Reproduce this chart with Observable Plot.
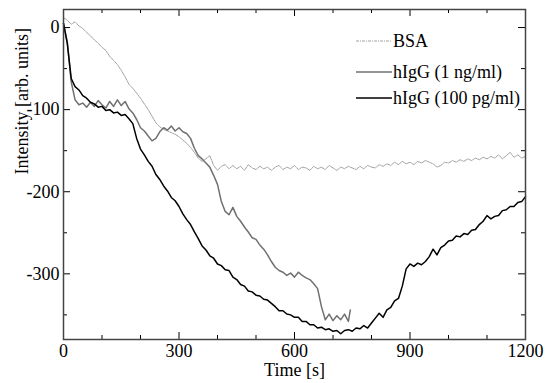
<!DOCTYPE html>
<html><head><meta charset="utf-8">
<script src="https://cdn.jsdelivr.net/npm/d3@7"></script>
<script src="https://cdn.jsdelivr.net/npm/@observablehq/plot@0.6"></script>
<style>body{margin:0;background:#fff} #wrap{position:relative;width:551px;height:383px}</style>
</head><body><div id="wrap"></div>
<script>
// ---- data ----
const seriesNames = ["BSA", "hIgG (1 ng/ml)", "hIgG (100 pg/ml)"];

const tBSA = [0,10,20,30,40,50,60,70,80,90,100,110,120,130,140,150,160,170,180,190,200,210,220,230,240,250,260,270,280,290,300,310,320,330,340,350,360,370,380,390,400,410,420,430,440,450,460,470,480,490,500,510,520,530,540,550,560,570,580,590,600,610,620,630,640,650,660,670,680,690,700,710,720,730,740,750,760,770,780,790,800,810,820,830,840,850,860,870,880,890,900,910,920,930,940,950,960,970,980,990,1000,1010,1020,1030,1040,1050,1060,1070,1080,1090,1100,1110,1120,1130,1140,1150,1160,1170,1180,1190,1200];
const vBSA = [12,9,4,7,2,-1,-6,-10,-15,-19,-24,-28,-35,-40,-45,-52,-60,-69,-74,-80,-86,-93,-100,-108,-116,-121,-124,-126,-128,-130,-133,-137,-141,-146,-152,-159,-163,-160,-156,-168,-174,-169,-167,-172,-168,-172,-169,-174,-167,-171,-173,-169,-172,-170,-174,-170,-168,-173,-170,-172,-168,-173,-170,-171,-174,-169,-172,-170,-173,-168,-171,-174,-170,-172,-169,-171,-173,-169,-172,-168,-170,-171,-167,-169,-166,-168,-164,-167,-163,-166,-164,-167,-163,-165,-162,-164,-166,-170,-168,-164,-165,-162,-164,-161,-163,-160,-162,-159,-161,-158,-160,-157,-159,-155,-160,-156,-152,-158,-155,-159,-157];

const tNg = [0,10,20,30,40,50,60,70,80,90,100,110,120,130,140,150,160,170,180,190,200,210,220,230,240,250,260,270,280,290,300,310,320,330,340,350,360,370,380,390,400,410,420,430,440,450,460,470,480,490,500,510,520,530,540,550,560,570,580,590,600,610,620,630,640,650,660,670,680,690,700,710,720,730,740,745];
const vNg = [5,-18,-66,-88,-94,-92,-97,-91,-96,-89,-94,-98,-90,-96,-88,-95,-90,-99,-104,-112,-122,-126,-132,-138,-135,-127,-122,-125,-120,-126,-122,-127,-129,-135,-147,-156,-160,-165,-170,-180,-191,-212,-224,-228,-219,-230,-236,-243,-249,-256,-258,-265,-270,-277,-285,-292,-296,-298,-302,-299,-304,-298,-302,-305,-307,-312,-318,-340,-356,-349,-357,-351,-356,-349,-358,-344];

const tPg = [0,10,20,30,40,50,60,70,80,90,100,110,120,130,140,150,160,170,180,190,200,210,220,230,240,250,260,270,280,290,300,310,320,330,340,350,360,370,380,390,400,410,420,430,440,450,460,470,480,490,500,510,520,530,540,550,560,570,580,590,600,610,620,630,640,650,660,670,680,690,700,710,720,730,740,750,760,770,780,790,800,810,820,830,840,850,860,870,880,890,900,910,920,930,940,950,960,970,980,990,1000,1010,1020,1030,1040,1050,1060,1070,1080,1090,1100,1110,1120,1130,1140,1150,1160,1170,1180,1190,1200];
const vPg = [5,-20,-62,-72,-76,-83,-86,-91,-93,-97,-96,-101,-100,-104,-103,-107,-106,-111,-117,-135,-148,-155,-163,-169,-179,-185,-193,-199,-207,-211,-218,-227,-234,-240,-249,-257,-266,-271,-278,-281,-288,-290,-295,-296,-304,-307,-313,-315,-321,-322,-326,-327,-331,-332,-336,-340,-345,-345,-349,-350,-353,-353,-358,-358,-362,-362,-366,-365,-368,-367,-370,-369,-373,-369,-368,-370,-366,-367,-363,-366,-360,-354,-348,-353,-344,-341,-333,-330,-315,-294,-288,-291,-287,-289,-285,-279,-270,-277,-268,-265,-260,-259,-254,-255,-251,-252,-247,-246,-240,-236,-229,-233,-230,-229,-223,-222,-218,-218,-213,-212,-206];

const xMajor = [0, 300, 600, 900, 1200];
const xMinor = [100, 200, 400, 500, 700, 800, 1000, 1100];
const yMajor = [0, -100, -200, -300];
const yMinor = [-50, -150, -250, -350];

// ---- layout ----
const W = 551, H = 383, mL = 63, mR = 26, mT = 9, mB = 44;
const iw = W - mL - mR, ih = H - mT - mB;
const font = "'Liberation Serif', 'Times New Roman', Times, serif";
const majLen = 7, minLen = 4;

const rows = (ts, vs) => ts.map((t, i) => ({t, v: vs[i]}));
const bsa = rows(tBSA, vBSA), ng = rows(tNg, vNg), pg = rows(tPg, vPg);

const styles = [
  {stroke: "#a0a0a0", strokeWidth: 1, strokeDasharray: "3,1,1,1"},
  {stroke: "#707070", strokeWidth: 1.5},
  {stroke: "#000000", strokeWidth: 1.5}
];

const chart = Plot.plot({
  width: W, height: H,
  marginLeft: mL, marginRight: mR, marginTop: mT, marginBottom: mB,
  style: {fontFamily: font, background: "#fff", color: "#000"},
  x: {domain: [0, 1200], axis: null},
  y: {domain: [-380, 22], axis: null},
  marks: [
    Plot.line(bsa, {x: "t", y: "v", ...styles[0]}),
    Plot.line(ng, {x: "t", y: "v", ...styles[1]}),
    Plot.line(pg, {x: "t", y: "v", ...styles[2]}),
    // inward ticks
    Plot.tickX(xMajor, {x: d => d, insetTop: ih - majLen, stroke: "#000"}),
    Plot.tickX(xMinor, {x: d => d, insetTop: ih - minLen, stroke: "#000"}),
    Plot.tickX(xMajor, {x: d => d, insetBottom: ih - majLen, stroke: "#000"}),
    Plot.tickX(xMinor, {x: d => d, insetBottom: ih - minLen, stroke: "#000"}),
    Plot.tickY(yMajor, {y: d => d, insetRight: iw - majLen, stroke: "#000"}),
    Plot.tickY(yMinor, {y: d => d, insetRight: iw - minLen, stroke: "#000"}),
    Plot.tickY(yMajor, {y: d => d, insetLeft: iw - majLen, stroke: "#000"}),
    Plot.tickY(yMinor, {y: d => d, insetLeft: iw - minLen, stroke: "#000"}),
    Plot.frame({stroke: "#444", strokeWidth: 1.5}),
    Plot.axisX(xMajor, {tickSize: 0, tickPadding: 5, fontSize: 18, fontFamily: font, label: null, tickFormat: d => String(d)}),
    Plot.axisY(yMajor, {tickSize: 0, tickPadding: 4, fontSize: 18, fontFamily: font, label: null, tickFormat: d => String(d)}),
    Plot.text(["Time [s]"], {text: d => d, frameAnchor: "bottom", dy: 31, fontSize: 18, fontFamily: font, lineAnchor: "middle"}),
    Plot.text(["Intensity [arb. units]"], {text: d => d, frameAnchor: "left", dx: -41, rotate: -90, fontSize: 18, fontFamily: font, lineAnchor: "middle"})
  ]
});

const wrap = document.getElementById("wrap");
wrap.appendChild(chart);

// ---- legend overlay ----
const legY = [41, 72, 98];
const leg = d3.create("svg")
  .attr("width", W).attr("height", H)
  .style("position", "absolute").style("left", "0px").style("top", "0px")
  .style("pointer-events", "none");
seriesNames.forEach((name, i) => {
  const g = leg.append("g");
  const s = styles[i];
  g.append("line").attr("x1", 356).attr("x2", 392).attr("y1", legY[i]).attr("y2", legY[i])
    .attr("stroke", s.stroke).attr("stroke-width", s.strokeWidth)
    .attr("stroke-dasharray", s.strokeDasharray || null);
  g.append("text").attr("x", 393).attr("y", legY[i]).attr("dy", "0.32em")
    .attr("font-family", font).attr("font-size", 18).attr("fill", "#000").text(name);
});
wrap.appendChild(leg.node());
</script>
</body></html>
